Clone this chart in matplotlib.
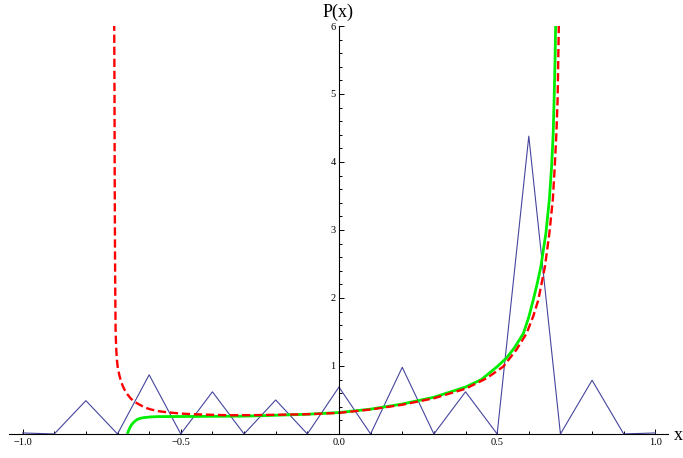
import numpy as np
import matplotlib
matplotlib.use("Agg")
import matplotlib.pyplot as plt

# histogram-like sampled P(x) (blue polyline)
samp_x = [-1.0, -0.9, -0.8, -0.7, -0.6, -0.5, -0.4, -0.3, -0.2, -0.1, 0.0,
          0.1, 0.2, 0.3, 0.4, 0.5, 0.6, 0.7, 0.8, 0.9, 1.0]
samp_p = [0.015, 0.0, 0.49, 0.0, 0.87, 0.0, 0.62, 0.0, 0.50, 0.0, 0.69,
          0.0, 0.98, 0.0, 0.62, 0.0, 4.38, 0.0, 0.79, 0.0, 0.015]

# green curve
green_x = [-0.669, -0.665, -0.660, -0.655, -0.647, -0.639, -0.628, -0.618, -0.597,
           -0.576, -0.45, -0.3, -0.2, -0.1, 0.0, 0.1, 0.2, 0.3, 0.4, 0.45, 0.5,
           0.53, 0.555, 0.583, 0.600, 0.614, 0.627, 0.638, 0.654, 0.665, 0.672,
           0.677, 0.680, 0.683, 0.685]
green_p = [0.0, 0.05, 0.10, 0.14, 0.18, 0.21, 0.23, 0.24, 0.25,
           0.255, 0.258, 0.262, 0.275, 0.29, 0.315, 0.365, 0.44, 0.54, 0.69, 0.80, 0.99,
           1.12, 1.27, 1.48, 1.72, 1.97, 2.22, 2.46, 2.95, 3.45, 3.93,
           4.4, 4.91, 5.5, 6.05]

# red dashed curve
red_x = [-0.7105, -0.7095, -0.709, -0.708, -0.707, -0.706, -0.704, -0.702, -0.699,
         -0.694, -0.688, -0.680, -0.670, -0.658, -0.645, -0.630, -0.614, -0.597,
         -0.570, -0.544, -0.50, -0.460, -0.35, -0.25, -0.1, 0.0, 0.1, 0.2, 0.3,
         0.4, 0.467, 0.519, 0.561, 0.593, 0.614, 0.630, 0.651, 0.665, 0.676,
         0.682, 0.687, 0.691, 0.695]
red_p = [6.05, 5.0, 4.0, 2.7, 2.0, 1.5, 1.25, 1.09, 0.97,
         0.86, 0.76, 0.67, 0.59, 0.52, 0.47, 0.43, 0.39, 0.363,
         0.335, 0.319, 0.30, 0.29, 0.275, 0.278, 0.29, 0.31, 0.36, 0.43, 0.525,
         0.665, 0.82, 0.99, 1.24, 1.48, 1.73, 1.97, 2.46, 2.95, 3.45,
         3.93, 4.4, 4.91, 6.05]

xticks = [-1.0, -0.5, 0.0, 0.5, 1.0]
xticklabels = ["\u22121.0", "\u22120.5", "0.0", "0.5", "1.0"]
yticks = [1, 2, 3, 4, 5, 6]

plt.rcParams["font.family"] = ["Liberation Serif", "DejaVu Serif"]

W, H = 683, 458
fig = plt.figure(figsize=(W / 100, H / 100), dpi=100)
x0, x1 = -1.043, 1.04
y0, y1 = -0.08, 6.0
ax = fig.add_axes([9 / W, (H - 439.4) / H, 659 / W, (439.4 - 26) / H])
ax.set_xlim(x0, x1)
ax.set_ylim(y0, y1)

ax.plot(samp_x, samp_p, color="#45459e", lw=0.8)
ax.plot(green_x, green_p, color="#00ee00", lw=2.0, solid_capstyle="butt")
ax.plot(red_x, red_p, color="#ff0000", lw=1.7, dashes=(3.5, 1.6))

for s in ["top", "right"]:
    ax.spines[s].set_visible(False)
ax.spines["left"].set_position(("data", 0))
ax.spines["bottom"].set_position(("data", 0))
ax.spines["left"].set_bounds(0, 6)
ax.spines["left"].set_linewidth(0.8)
ax.spines["bottom"].set_linewidth(0.8)

ax.set_xticks(xticks)
ax.set_xticklabels(xticklabels)
ax.set_xticks(np.round(np.arange(-1.0, 1.01, 0.1), 2), minor=True)
ax.set_yticks(yticks)
ax.set_yticks(np.round(np.arange(0.2, 6.01, 0.2), 2), minor=True)

ax.tick_params(axis="both", which="both", direction="in", width=0.7, labelsize=7.5)
ax.tick_params(axis="both", which="major", length=3.5)
ax.tick_params(axis="both", which="minor", length=2)
ax.tick_params(axis="x", pad=3)
ax.tick_params(axis="y", pad=2.5)

fig.text(338 / W, 1 - 12 / H, "P(x)", ha="center", va="center", fontsize=13)
fig.text(674 / W, 1 - 436 / H, "x", ha="left", va="center", fontsize=13)

fig.savefig("out.png", dpi=100)
